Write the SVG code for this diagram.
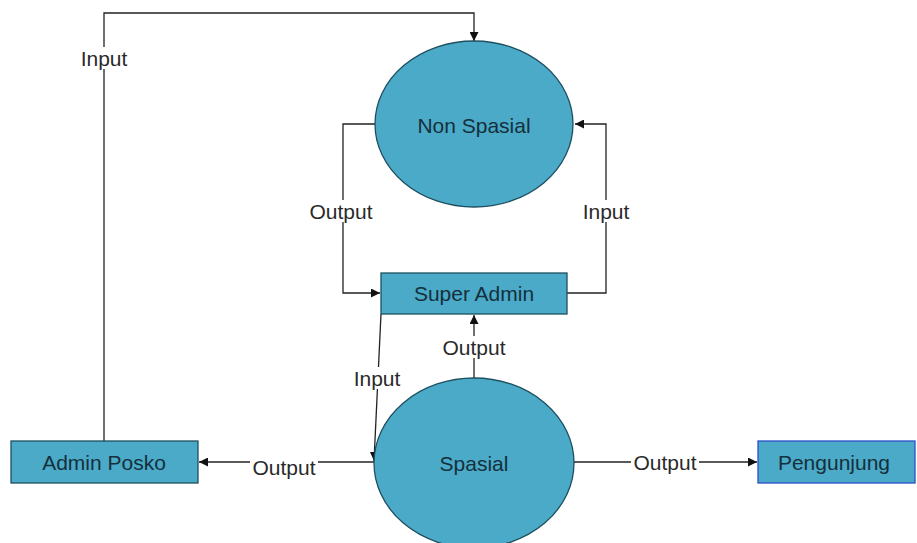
<svg xmlns="http://www.w3.org/2000/svg" width="917" height="543" viewBox="0 0 917 543">
<defs>
<style>
.n{fill:#4aaac8;stroke:#1e4f5f;stroke-width:1.3}
.b{stroke:#2a4fc8}
.t{font-family:"Liberation Sans",Arial,sans-serif;font-size:21px;fill:#15303c;text-anchor:middle;dominant-baseline:central}
.l{font-family:"Liberation Sans",Arial,sans-serif;font-size:21px;fill:#2a2a2a;text-anchor:middle;dominant-baseline:central}
.c{fill:none;stroke:#222;stroke-width:1.3}
.bg{fill:#fff}
</style>
<marker id="a" viewBox="0 0 10 10" refX="10" refY="5" markerWidth="9" markerHeight="9" markerUnits="userSpaceOnUse" orient="auto">
<path d="M0,0L10,5L0,10z" fill="#111"/>
</marker>
</defs>
<rect width="917" height="543" fill="#fff"/>
<g id="connectors">
<path class="c" d="M104,441V13H474V41" marker-end="url(#a)"/>
<path class="c" d="M375,124H343V293H380" marker-end="url(#a)"/>
<path class="c" d="M567,293H606V124H575" marker-end="url(#a)"/>
<path class="c" d="M474,378V315" marker-end="url(#a)"/>
<path class="c" d="M381,314L374,461" marker-end="url(#a)"/>
<path class="c" d="M374,462H199" marker-end="url(#a)"/>
<path class="c" d="M574,462H757" marker-end="url(#a)"/>
<g id="labels">
<rect class="bg" x="76" y="47" width="56" height="22"/>
<text class="l" x="104" y="58">Input</text>
<rect class="bg" x="304" y="200" width="76" height="22"/>
<text class="l" x="341" y="211">Output</text>
<rect class="bg" x="578" y="200" width="56" height="22"/>
<text class="l" x="606" y="211">Input</text>
<rect class="bg" x="440" y="336" width="68" height="22"/>
<text class="l" x="474" y="347">Output</text>
<rect class="bg" x="350" y="367" width="54" height="22"/>
<text class="l" x="377" y="378">Input</text>
<rect class="bg" x="250" y="458" width="68" height="18"/>
<text class="l" x="284" y="467">Output</text>
<rect class="bg" x="631" y="453" width="68" height="18"/>
<text class="l" x="665" y="462">Output</text>
</g>
</g>
<g id="non-spasial">
<ellipse class="n" cx="474" cy="124" rx="99" ry="83"/>
<text class="t" x="474" y="125">Non Spasial</text>
</g>
<g id="super-admin">
<rect class="n" x="381" y="273" width="186" height="41"/>
<text class="t" x="474" y="293">Super Admin</text>
</g>
<g id="spasial">
<ellipse class="n" cx="474" cy="463" rx="100" ry="85"/>
<text class="t" x="474" y="463">Spasial</text>
</g>
<g id="admin-posko">
<rect class="n" x="11" y="441" width="187" height="42"/>
<text class="t" x="104" y="462">Admin Posko</text>
</g>
<g id="pengunjung">
<rect class="n b" x="758" y="441" width="157" height="42"/>
<text class="t" x="834" y="462">Pengunjung</text>
</g>
</svg>
